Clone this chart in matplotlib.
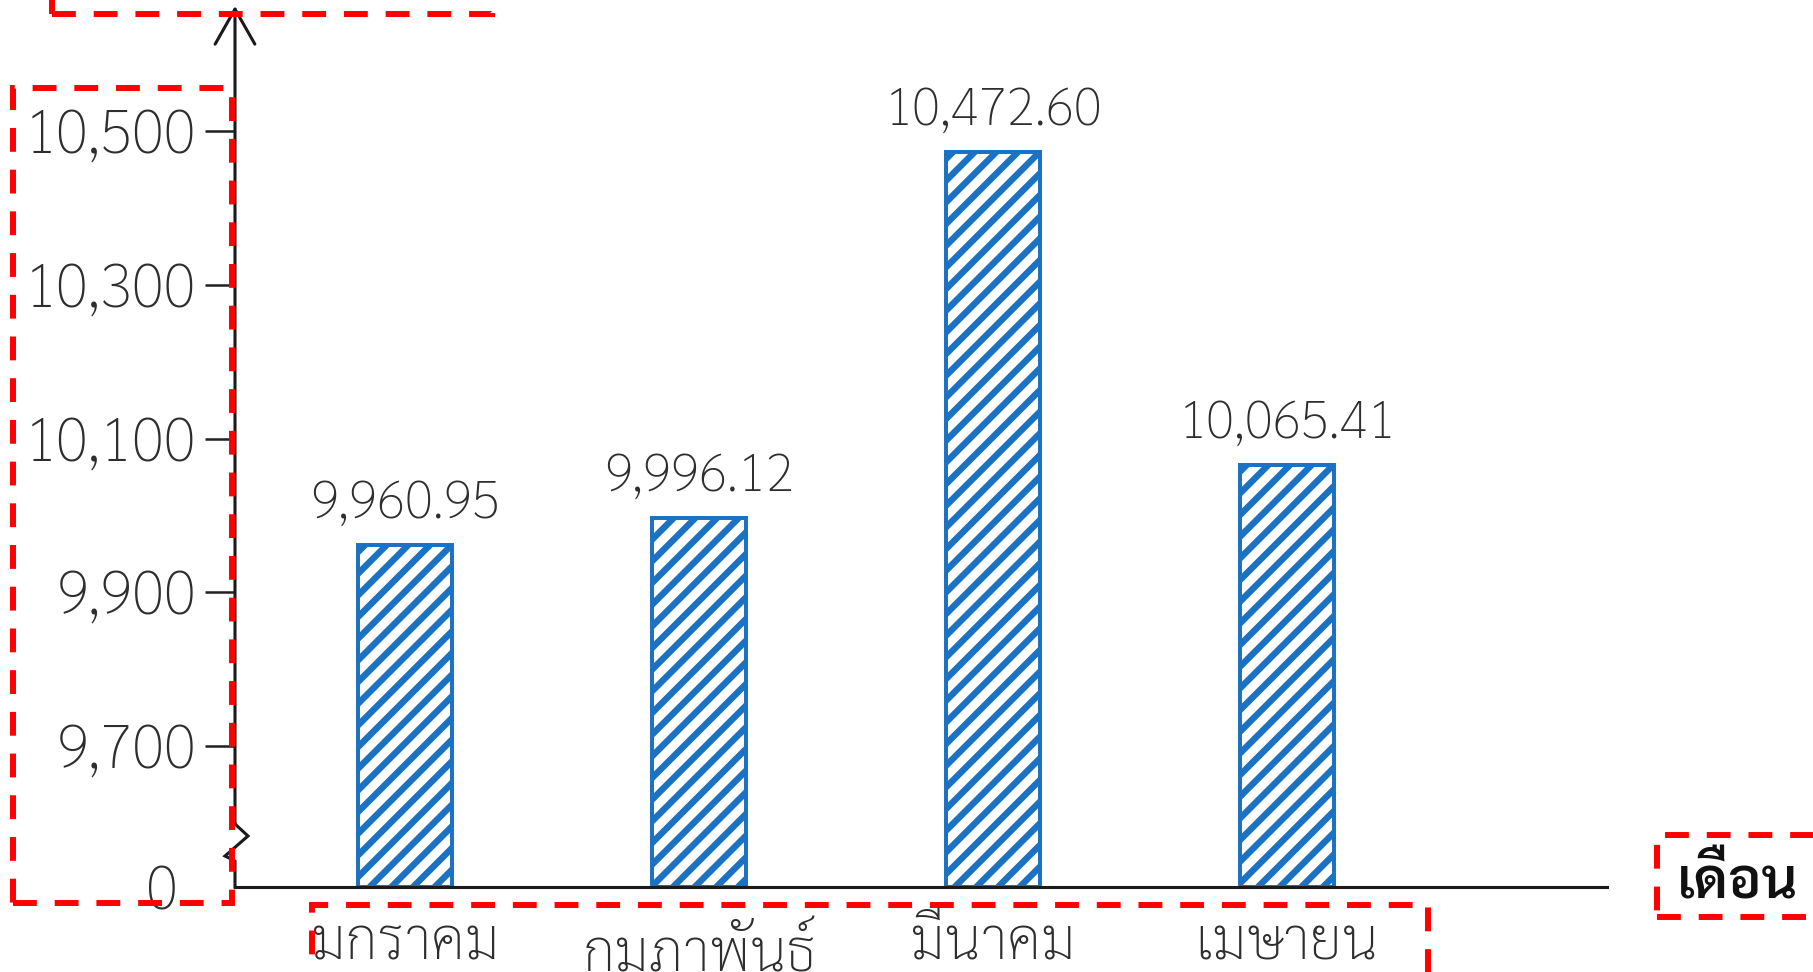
import matplotlib
matplotlib.use('Agg')
import matplotlib.pyplot as plt
import matplotlib.transforms as mtransforms
from matplotlib import font_manager
from matplotlib.patches import Rectangle

# Data
months = ['มกราคม', 'กุมภาพันธ์', 'มีนาคม', 'เมษายน']
values = [9960.95, 9996.12, 10472.60, 10065.41]
tick_values = [9700, 9900, 10100, 10300, 10500]
tick_labels = ['9,700', '9,900', '10,100', '10,300', '10,500']
x_title = 'เดือน'

# pick an installed font that has Thai glyphs
installed = {f.name for f in font_manager.fontManager.ttflist}
thai_font = 'DejaVu Sans'
for name in ['Sarabun', 'Noto Sans Thai', 'Noto Sans Thai Looped', 'Athiti']:
    if name in installed:
        thai_font = name
        break
plt.rcParams['font.family'] = [thai_font, 'DejaVu Sans']
plt.rcParams['hatch.linewidth'] = 3.6

W, H = 1813, 972
fig = plt.figure(figsize=(W / 130, H / 130), dpi=130)

# axes placed in pixels (left, top of arrow, right end, baseline)
ax_l, ax_t, ax_r, ax_b = 235, 6, 1607, 887
ax = fig.add_axes([ax_l / W, (H - ax_b) / H, (ax_r - ax_l) / W, (ax_b - ax_t) / H])

blue = '#1b72c2'
base = 9516.6   # value shown as 0 after the axis break
x = range(len(months))
bars = ax.bar(x, [v - base for v in values], bottom=base, width=0.32,
              facecolor='white', edgecolor=blue, linewidth=2.2, hatch='//')

for xi, v in zip(x, values):
    ax.annotate(f'{v:,.2f}', (xi, v), xytext=(0, 8), textcoords='offset points',
                ha='center', va='bottom', fontsize=29, color='#2e2e2e',
                fontweight='light')

ax.set_xlim(-0.578, 4.088)
ax.set_ylim(base, 10662.6)

ax.set_yticks([base] + tick_values)
ax.set_yticklabels(['0'] + tick_labels, fontsize=33, color='#2e2e2e', fontweight='light')
ax.tick_params(axis='y', direction='out', length=16.5, width=1.4, color='#222222', pad=5)
zero_tick = ax.yaxis.get_major_ticks()[0]
zero_tick.tick1line.set_visible(False)
zero_tick.label1.set_transform(zero_tick.label1.get_transform() +
                               mtransforms.ScaledTranslation(-18 / 130, 0, fig.dpi_scale_trans))

ax.set_xticks(list(x))
ax.set_xticklabels(months, fontsize=32, color='#2e2e2e', fontweight='light')
ax.tick_params(axis='x', length=0, pad=16)

for s in ['top', 'right', 'left']:
    ax.spines[s].set_visible(False)
ax.spines['bottom'].set_linewidth(1.7)
ax.spines['bottom'].set_color('#1a1a1a')

# y axis with break zigzag and arrow head
axw, axh = ax_r - ax_l, ax_b - ax_t
def fx(dx):
    return dx / axw
def fy(ypx):
    return (ax_b - ypx) / axh
zz_x = [0, 0, fx(13), fx(-10), 0, 0]
zz_y = [fy(824), fy(824), fy(836), fy(856), fy(861), 0]
ax.plot(zz_x, zz_y, color='#1a1a1a', lw=1.7, transform=ax.transAxes, clip_on=False,
        solid_joinstyle='miter')
ax.annotate('', xy=(0, 1), xytext=(0, fy(824)), xycoords='axes fraction',
            arrowprops=dict(arrowstyle='->,head_length=0.97,head_width=0.55',
                            mutation_scale=20, lw=1.7, color='#1a1a1a',
                            shrinkA=0, shrinkB=0))

fig.text(1738 / W, (H - 884) / H, x_title, fontsize=31, fontweight='semibold',
         ha='center', va='center', color='#111111')

# red dashed highlight boxes
boxes = [(52, -40, 492, 14), (13, 88, 232, 903), (312, 905, 1428, 1010), (1657, 835, 1840, 917)]
for x0, y0, x1, y1 in boxes:
    fig.add_artist(Rectangle((x0 / W, (H - y1) / H), (x1 - x0) / W, (y1 - y0) / H,
                             transform=fig.transFigure, fill=False, edgecolor='#ff0000',
                             lw=3.3, linestyle=(0, (4, 3)), zorder=10))

fig.savefig('out.png', dpi=130)
